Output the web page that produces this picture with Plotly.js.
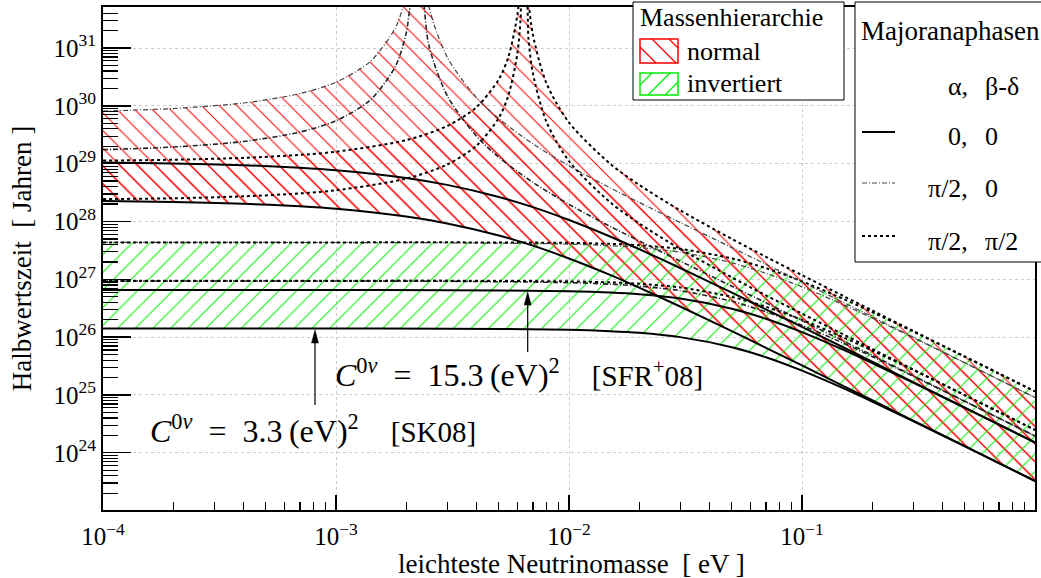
<!DOCTYPE html>
<html>
<head>
<meta charset="utf-8">
<script src="https://cdn.plot.ly/plotly-3.0.1.min.js"></script>
<style>
  html, body { margin: 0; padding: 0; background: #fff; }
  #chart { width: 1041px; height: 578px; }
</style>
</head>
<body>
<div id="chart"></div>
<script>
// Lightest neutrino mass grids [eV]
const massNormal = [1e-4, 2e-4, 4e-4, 7e-4, 1e-3, 2e-3, 3e-3, 5e-3, 7e-3, 1e-2, 1.5e-2, 2e-2, 3e-2, 5e-2, 7e-2, 0.1, 0.15, 0.2, 0.3, 0.5, 0.7, 1];
const massNormalAlpha = [1e-4, 2e-4, 4e-4, 7e-4, 1e-3, 1.4e-3, 1.8e-3, 2e-3, 2.1e-3, 2.3e-3, 2.5e-3, 3e-3, 4e-3, 5e-3, 7e-3, 1e-2, 1.5e-2, 2e-2, 3e-2, 5e-2, 7e-2, 0.1, 0.15, 0.2, 0.3, 0.5, 0.7, 1];
const massNormalBoth = [1e-4, 2e-4, 4e-4, 7e-4, 1e-3, 2e-3, 3e-3, 4e-3, 5e-3, 5.5e-3, 6e-3, 6.2e-3, 6.3e-3, 6.5e-3, 6.7e-3, 7e-3, 8e-3, 1e-2, 1.5e-2, 2e-2, 3e-2, 5e-2, 7e-2, 0.1, 0.15, 0.2, 0.3, 0.5, 0.7, 1];
const massInverted = [1e-4, 1e-3, 3e-3, 1e-2, 1.5e-2, 2e-2, 3e-2, 5e-2, 7e-2, 0.1, 0.15, 0.2, 0.3, 0.5, 0.7, 1];

// Half-lives [years], normal hierarchy; "SFR" = C(0nu) 15.3 eV^2, "SK" = C(0nu) 3.3 eV^2
// Majorana phases (alpha, beta-delta) = (0, 0)
const nhPhase00SFR = [1.047e29, 1.010e29, 9.42e28, 8.50e28, 7.70e28, 5.67e28, 4.30e28, 2.66e28, 1.77e28, 1.06e28, 5.51e27, 3.32e27, 1.57e27, 5.87e26, 3.03e26, 1.50e26, 6.68e25, 3.76e25, 1.67e25, 6.03e24, 3.08e24, 1.51e24];
const nhPhase00SK = [2.26e28, 2.18e28, 2.03e28, 1.83e28, 1.66e28, 1.22e28, 9.27e27, 5.74e27, 3.82e27, 2.29e27, 1.19e27, 7.16e26, 3.39e26, 1.27e26, 6.54e25, 3.24e25, 1.44e25, 8.11e24, 3.60e24, 1.30e24, 6.64e23, 3.26e23];
// (pi/2, 0)
const nhPhase10SFR = [8.12e29, 8.99e29, 1.12e30, 1.63e30, 2.57e30, 5.80e30, 2.25e31, 8.29e31, 2.78e32, 6.46e32, 5.27e31, 6.96e30, 1.40e30, 6.00e29, 2.20e29, 9.17e28, 3.82e28, 2.14e28, 9.61e27, 3.53e27, 1.82e27, 8.97e26, 4.00e26, 2.26e26, 1.00e26, 3.61e25, 1.84e25, 9.04e24];
const nhPhase10SK = [1.75e29, 1.94e29, 2.42e29, 3.52e29, 5.54e29, 1.25e30, 4.85e30, 1.79e31, 6.00e31, 1.39e32, 1.14e31, 1.50e30, 3.02e29, 1.29e29, 4.75e28, 1.98e28, 8.24e27, 4.62e27, 2.07e27, 7.61e26, 3.93e26, 1.93e26, 8.63e25, 4.87e25, 2.16e25, 7.79e24, 3.97e24, 1.95e24];
// (pi/2, pi/2)
const nhPhase11SFR = [1.13e29, 1.17e29, 1.26e29, 1.42e29, 1.61e29, 2.55e29, 4.48e29, 9.41e29, 2.89e30, 7.12e30, 3.67e31, 1.48e32, 5.98e32, 5.94e32, 6.69e31, 1.69e31, 2.46e30, 5.15e29, 1.00e29, 4.30e28, 1.56e28, 4.99e27, 2.45e27, 1.18e27, 5.18e26, 2.90e26, 1.28e26, 4.62e25, 2.36e25, 1.15e25];
const nhPhase11SK = [2.44e28, 2.52e28, 2.72e28, 3.06e28, 3.47e28, 5.50e28, 9.66e28, 2.03e29, 6.23e29, 1.54e30, 7.92e30, 3.19e31, 1.29e32, 1.28e32, 1.44e31, 3.65e30, 5.31e29, 1.11e29, 2.16e28, 9.27e27, 3.36e27, 1.08e27, 5.28e26, 2.55e26, 1.12e26, 6.26e25, 2.76e25, 9.96e24, 5.09e24, 2.48e24];

// Half-lives [years], inverted hierarchy
const ihPhase00SFR = [6.53e26, 6.52e26, 6.48e26, 6.21e26, 5.89e26, 5.50e26, 4.64e26, 3.10e26, 2.08e26, 1.22e26, 6.06e25, 3.56e25, 1.63e25, 5.98e24, 3.06e24, 1.50e24];
const ihPhase00SK = [1.41e26, 1.41e26, 1.40e26, 1.34e26, 1.27e26, 1.19e26, 1.00e26, 6.69e25, 4.49e25, 2.63e25, 1.31e25, 7.68e24, 3.52e24, 1.29e24, 6.60e23, 3.24e23];
const ihPhase10SFR = [4.34e27, 4.33e27, 4.29e27, 4.06e27, 3.82e27, 3.54e27, 2.95e27, 1.93e27, 1.27e27, 7.41e26, 3.66e26, 2.14e26, 9.80e25, 3.58e25, 1.84e25, 9.02e24];
const ihPhase10SK = [9.36e26, 9.34e26, 9.25e26, 8.76e26, 8.24e26, 7.64e26, 6.36e26, 4.16e26, 2.74e26, 1.60e26, 7.89e25, 4.62e25, 2.11e25, 7.72e24, 3.97e24, 1.95e24];
const ihPhase11SFR = [4.35e27, 4.35e27, 4.36e27, 4.27e27, 4.11e27, 3.89e27, 3.35e27, 2.30e27, 1.56e27, 9.23e26, 4.61e26, 2.71e26, 1.25e26, 4.57e25, 2.34e25, 1.15e25];
const ihPhase11SK = [9.38e26, 9.38e26, 9.40e26, 9.21e26, 8.86e26, 8.39e26, 7.23e26, 4.96e26, 3.36e26, 1.99e26, 9.94e25, 5.85e25, 2.70e25, 9.86e24, 5.05e24, 2.48e24];

// Tick labels
const xTickVals = [1e-4, 1e-3, 1e-2, 1e-1, 1];
const xTickText = ['10<sup>\u22124</sup>', '10<sup>\u22123</sup>', '10<sup>\u22122</sup>', '10<sup>\u22121</sup>', '1'];
const yTickVals = [1e24, 1e25, 1e26, 1e27, 1e28, 1e29, 1e30, 1e31];
const yTickText = ['10<sup>24</sup>', '10<sup>25</sup>', '10<sup>26</sup>', '10<sup>27</sup>', '10<sup>28</sup>', '10<sup>29</sup>', '10<sup>30</sup>', '10<sup>31</sup>'];

// Titles, legend and label text
const xTitle = 'leichteste Neutrinomasse&nbsp;&nbsp;[ eV ]';
const yTitle = 'Halbwertszeit&nbsp;&nbsp;[ Jahren ]';
const hierTitle = 'Massenhierarchie';
const hierNames = ['normal', 'invertiert'];
const phaseTitle = 'Majoranaphasen';
const phaseColA = ['\u03b1,', '0,', '\u03c0/2,', '\u03c0/2,'];
const phaseColB = ['\u03b2-\u03b4', '0', '0', '\u03c0/2'];
const labelSK = '<i>C</i><sup>0<i>\u03bd</i></sup>&nbsp;&nbsp;=&nbsp;&nbsp;3.3\u2009(eV)<sup>2</sup>&nbsp;&nbsp;&nbsp;&nbsp;<span style="font-size:29px">[SK08]</span>';
const labelSFR = '<i>C</i><sup>0<i>\u03bd</i></sup>&nbsp;&nbsp;=&nbsp;&nbsp;15.3\u2009(eV)<sup>2</sup>&nbsp;&nbsp;&nbsp;&nbsp;<span style="font-size:29px">[SFR<sup>+</sup>08]</span>';

const SERIF = 'Liberation Serif, Times New Roman, serif';
const RED = '#ff0000';
const GREEN = '#00ee00';

// minor log ticks (2..9 per decade)
function minorTicks(d0, d1) {
  const v = [];
  for (let d = d0; d <= d1; d++) for (let k = 2; k <= 9; k++) v.push(k * Math.pow(10, d));
  return v;
}

// plot-area pixel -> paper coordinates (plot area 103..1035 x 7..510)
const L = 103, R = 1035, T = 7, B = 510;
const PX = px => (px - L) / (R - L);
const PY = py => (B - py) / (B - T);

function band(xTop, yTop, xBot, yBot, shape, color) {
  return {
    type: 'scatter', mode: 'none', hoverinfo: 'skip', showlegend: false,
    x: xTop.concat(xBot.slice().reverse()),
    y: yTop.concat(yBot.slice().reverse()),
    fill: 'toself', fillcolor: 'rgba(0,0,0,0)',
    fillpattern: { shape: shape, fgcolor: color, bgcolor: 'rgba(0,0,0,0)', size: 12.5, solidity: 0.08, fillmode: 'replace' }
  };
}

function curve(x, y, dash, width, color) {
  return {
    type: 'scatter', mode: 'lines', hoverinfo: 'skip', showlegend: false,
    x: x, y: y,
    line: { color: color, width: width, dash: dash, shape: 'spline', smoothing: 0.8 }
  };
}

const DASHDOT = '5px,2px,1px,2px';
const traces = [
  // hatched bands: normal hierarchy (union of both upper envelopes), inverted hierarchy
  band(massNormalAlpha, nhPhase10SFR, massNormal, nhPhase00SK, '\\', RED),
  band(massNormalBoth, nhPhase11SFR, massNormal, nhPhase00SK, '\\', RED),
  band(massInverted, ihPhase11SFR, massInverted, ihPhase00SK, '/', GREEN),

  // inverted hierarchy curves
  curve(massInverted, ihPhase00SFR, 'solid', 2, '#000'),
  curve(massInverted, ihPhase00SK, 'solid', 2, '#000'),
  curve(massInverted, ihPhase10SFR, DASHDOT, 1.2, '#444'),
  curve(massInverted, ihPhase10SK, DASHDOT, 1.6, '#222'),
  curve(massInverted, ihPhase11SFR, 'dot', 2, '#000'),
  curve(massInverted, ihPhase11SK, 'dot', 2, '#000'),

  // normal hierarchy curves
  curve(massNormal, nhPhase00SFR, 'solid', 2, '#000'),
  curve(massNormal, nhPhase00SK, 'solid', 2, '#000'),
  curve(massNormalAlpha, nhPhase10SFR, DASHDOT, 1.2, '#444'),
  curve(massNormalAlpha, nhPhase10SK, DASHDOT, 1.6, '#222'),
  curve(massNormalBoth, nhPhase11SFR, 'dot', 2, '#000'),
  curve(massNormalBoth, nhPhase11SK, 'dot', 2, '#000')
];

function text(px, py, str, anchor, size) {
  return {
    xref: 'paper', yref: 'paper', x: PX(px), y: PY(py), text: str,
    showarrow: false, xanchor: anchor, yanchor: 'middle',
    font: { family: SERIF, size: size, color: '#000' }
  };
}

const xTitleNote = text(397, 564, xTitle, 'left', 27);
xTitleNote.height = 26;
xTitleNote.borderpad = 0;

const annotations = [
  text(148, 429, labelSK, 'left', 32),
  text(333, 373, labelSFR, 'left', 32),
  // x axis title
  xTitleNote,
  // hierarchy legend
  text(638, 17, hierTitle, 'left', 26),
  text(685, 51, hierNames[0], 'left', 26),
  text(685, 84, hierNames[1], 'left', 26),
  // phase legend
  text(859, 31, phaseTitle, 'left', 27)
];
const rowY = [86, 136, 189, 241];
for (let i = 0; i < 4; i++) {
  annotations.push(text(970, rowY[i], phaseColA[i], 'right', 26));
  annotations.push(text(983, rowY[i], phaseColB[i], 'left', 26));
}

function seg(x0, y0, x1, y1, color, width, dash) {
  return { type: 'line', xref: 'paper', yref: 'paper', x0: PX(x0), y0: PY(y0), x1: PX(x1), y1: PY(y1),
           line: { color: color, width: width, dash: dash || 'solid' } };
}
function box(x0, y0, x1, y1, color, width, fill) {
  return { type: 'rect', xref: 'paper', yref: 'paper', x0: PX(x0), y0: PY(y0), x1: PX(x1), y1: PY(y1),
           line: { color: color, width: width }, fillcolor: fill || 'rgba(0,0,0,0)' };
}
// vertical pointer with a small filled head at the top
function pointer(px, pyHead, pyTail) {
  const head = 'M ' + PX(px) + ' ' + PY(pyHead) +
               ' L ' + PX(px - 3.5) + ' ' + PY(pyHead + 13) +
               ' L ' + PX(px + 3.5) + ' ' + PY(pyHead + 13) + ' Z';
  return [
    seg(px, pyHead + 10, px, pyTail, '#000', 1.2),
    { type: 'path', xref: 'paper', yref: 'paper', path: head, line: { color: '#000', width: 0.5 }, fillcolor: '#000' }
  ];
}

const shapes = [
  // hierarchy legend
  box(633, 2, 844, 100, '#000', 1, '#fff'),
  box(640, 39, 678, 63, RED, 1.5),
  seg(640, 47, 656, 63, RED, 1.2), seg(652, 39, 676, 63, RED, 1.2), seg(669, 39, 678, 48, RED, 1.2),
  box(640, 73, 678, 95, GREEN, 1.5),
  seg(640, 85, 652, 73, GREEN, 1.2), seg(648, 95, 670, 73, GREEN, 1.2), seg(665, 95, 678, 82, GREEN, 1.2),
  // phase legend
  box(855, 2, 1050, 262, '#000', 1, '#fff'),
  seg(862, 132, 895, 132, '#000', 2),
  seg(862, 183, 895, 183, '#444', 1.2, DASHDOT),
  seg(862, 236, 895, 236, '#000', 2, 'dot')
].concat(pointer(315, 330, 405), pointer(527.7, 292, 352));

const layout = {
  width: 1041, height: 578,
  margin: { l: L, r: 1041 - R, t: T, b: 578 - B },
  paper_bgcolor: '#fff', plot_bgcolor: '#fff',
  font: { family: SERIF, size: 25, color: '#000' },
  showlegend: false,
  xaxis: {
    type: 'log', range: [-4, 0],
    tickmode: 'array', tickvals: xTickVals, ticktext: xTickText,
    ticks: 'inside', ticklen: 15, tickwidth: 1.3, tickcolor: '#000', ticklabelstandoff: 3,
    minor: { tickmode: 'array', tickvals: minorTicks(-4, -1), ticks: 'inside', ticklen: 8, tickwidth: 1.2, tickcolor: '#000', showgrid: false },
    showline: true, linewidth: 2, linecolor: '#000', mirror: true,
    showgrid: true, gridcolor: '#cccccc', griddash: 'dot', gridwidth: 1, zeroline: false,
    tickfont: { family: SERIF, size: 25 }
  },
  yaxis: {
    type: 'log', range: [23.01, 31.71],
    tickmode: 'array', tickvals: yTickVals, ticktext: yTickText,
    ticks: 'inside', ticklen: 28, tickwidth: 1.3, tickcolor: '#000',
    minor: { tickmode: 'array', tickvals: minorTicks(23, 31), ticks: 'inside', ticklen: 15, tickwidth: 1.2, tickcolor: '#000', showgrid: false },
    showline: true, linewidth: 2, linecolor: '#000', mirror: true,
    showgrid: true, gridcolor: '#cccccc', griddash: 'dot', gridwidth: 1, zeroline: false,
    tickfont: { family: SERIF, size: 25 },
    title: { text: yTitle, font: { family: SERIF, size: 27 }, standoff: 14 }
  },
  annotations: annotations,
  shapes: shapes
};

Plotly.newPlot('chart', traces, layout, { staticPlot: true, displayModeBar: false });
</script>
</body>
</html>
